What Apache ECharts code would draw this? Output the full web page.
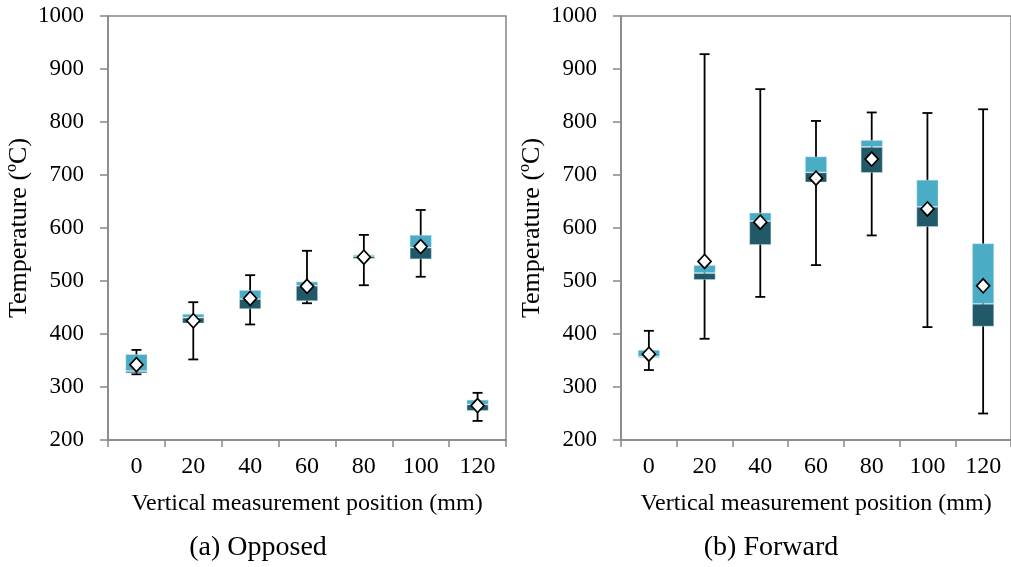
<!DOCTYPE html>
<html>
<head>
<meta charset="utf-8">
<script src="https://cdn.jsdelivr.net/npm/echarts@6/dist/echarts.min.js"></script>
<style>
  html, body { margin: 0; padding: 0; background: #ffffff; }
  #chart { width: 1011px; height: 567px; }
</style>
</head>
<body>
<div id="chart"></div>
<script>
// Vertical measurement positions (mm)
const positions = ['0', '20', '40', '60', '80', '100', '120'];

// Opposed configuration: temperature statistics (ºC)
const opposedMin    = [324, 352, 418, 458, 492, 508, 236];
const opposedQ1     = [326, 420, 447, 462, 542, 541, 255];
const opposedMedian = [330, 431, 466, 491, 547, 563, 267];
const opposedQ3     = [362, 438, 483, 499, 550, 587, 276];
const opposedMax    = [370, 460, 511, 557, 587, 634, 289];
const opposedMean   = [342, 425, 467, 490, 545, 565, 265];

// Forward configuration: temperature statistics (ºC)
const forwardMin    = [332, 391, 470, 530, 586, 413, 250];
const forwardQ1     = [355, 502, 568, 686, 704, 602, 414];
const forwardMedian = [357, 515, 613, 705, 753, 640, 457];
const forwardQ3     = [370, 530, 629, 735, 766, 691, 571];
const forwardMax    = [406, 928, 862, 802, 818, 817, 824];
const forwardMean   = [362, 537, 611, 694, 730, 636, 491];

// Temperature axis ticks
const tempMin = 200;
const tempMax = 1000;
const tempStep = 100;

const SERIF = '"Liberation Serif", "Times New Roman", serif';
const AXIS_GREY = '#868686';
const DARK_TEAL = '#215968';
const LIGHT_TEAL = '#4bacc6';

function renderWhisker(params, api) {
  const x = api.value(0);
  const lo = api.coord([x, api.value(1)]);
  const hi = api.coord([x, api.value(2)]);
  const cap = 5;
  const style = { stroke: '#000000', lineWidth: 1.8, fill: null };
  return {
    type: 'group',
    children: [
      { type: 'line', shape: { x1: lo[0], y1: lo[1], x2: hi[0], y2: hi[1] }, style: style },
      { type: 'line', shape: { x1: lo[0] - cap, y1: lo[1], x2: lo[0] + cap, y2: lo[1] }, style: style },
      { type: 'line', shape: { x1: hi[0] - cap, y1: hi[1], x2: hi[0] + cap, y2: hi[1] }, style: style }
    ]
  };
}

function panelSeries(idx, mins, q1, med, q3, maxs, means) {
  const stackId = 'box' + idx;
  return [
    {
      type: 'custom',
      xAxisIndex: idx, yAxisIndex: idx,
      renderItem: renderWhisker,
      encode: { x: 0, y: [1, 2] },
      data: positions.map((p, i) => [i, mins[i], maxs[i]]),
      z: 1
    },
    {
      type: 'bar', stack: stackId,
      xAxisIndex: idx, yAxisIndex: idx,
      barWidth: 22,
      itemStyle: { color: 'rgba(0,0,0,0)' },
      data: q1.slice(),
      z: 2
    },
    {
      type: 'bar', stack: stackId,
      xAxisIndex: idx, yAxisIndex: idx,
      barWidth: 22,
      itemStyle: { color: DARK_TEAL, borderColor: 'rgba(200,230,238,0.55)', borderWidth: 0.8 },
      data: med.map((m, i) => m - q1[i]),
      z: 2
    },
    {
      type: 'bar', stack: stackId,
      xAxisIndex: idx, yAxisIndex: idx,
      barWidth: 22,
      itemStyle: { color: LIGHT_TEAL, borderColor: 'rgba(200,230,238,0.55)', borderWidth: 0.8 },
      data: q3.map((q, i) => q - med[i]),
      z: 2
    },
    {
      type: 'scatter',
      xAxisIndex: idx, yAxisIndex: idx,
      symbol: 'diamond',
      symbolSize: [13, 14],
      itemStyle: { color: '#ffffff', borderColor: '#000000', borderWidth: 1.7, opacity: 1 },
      data: means.map((m, i) => [i, m]),
      z: 3
    }
  ];
}

function xAxisFor(idx) {
  return {
    type: 'category', gridIndex: idx, data: positions,
    axisLine: { lineStyle: { color: AXIS_GREY, width: 1.5 } },
    axisTick: { show: true, length: 7, lineStyle: { color: AXIS_GREY, width: 1.5 } },
    axisLabel: { fontFamily: SERIF, fontSize: 24, color: '#000000', margin: 15 },
    name: 'Vertical measurement position (mm)',
    nameLocation: 'middle', nameGap: 52,
    nameTextStyle: { fontFamily: SERIF, fontSize: 24, color: '#000000' }
  };
}

function yAxisFor(idx) {
  return {
    type: 'value', gridIndex: idx,
    min: tempMin, max: tempMax, interval: tempStep,
    splitLine: { show: false },
    axisLine: { show: true, lineStyle: { color: AXIS_GREY, width: 1.5 } },
    axisTick: { show: true, length: 8, lineStyle: { color: AXIS_GREY, width: 1.5 } },
    axisLabel: { fontFamily: SERIF, fontSize: 23, color: '#000000', margin: 24,
                 formatter: (v) => String(v) },
    name: 'Temperature (ºC)',
    nameLocation: 'middle', nameGap: 76, nameRotate: 90,
    nameTextStyle: { fontFamily: SERIF, fontSize: 26, color: '#000000' }
  };
}

const chart = echarts.init(document.getElementById('chart'), null, { renderer: 'canvas' });

chart.setOption({
  animation: false,
  backgroundColor: '#ffffff',
  grid: [
    { left: 108, top: 16, width: 398, height: 424, show: true, borderColor: AXIS_GREY, borderWidth: 1.5 },
    { left: 621, top: 16, width: 399, height: 424, show: true, borderColor: AXIS_GREY, borderWidth: 1.5 }
  ],
  xAxis: [xAxisFor(0), xAxisFor(1)],
  yAxis: [yAxisFor(0), yAxisFor(1)],
  series: [].concat(
    panelSeries(0, opposedMin, opposedQ1, opposedMedian, opposedQ3, opposedMax, opposedMean),
    panelSeries(1, forwardMin, forwardQ1, forwardMedian, forwardQ3, forwardMax, forwardMean)
  ),
  graphic: [
    { type: 'text', x: 258, y: 548,
      style: { text: '(a) Opposed', font: '28px ' + SERIF, fill: '#000000', align: 'center', verticalAlign: 'middle' } },
    { type: 'text', x: 771, y: 548,
      style: { text: '(b) Forward', font: '28px ' + SERIF, fill: '#000000', align: 'center', verticalAlign: 'middle' } }
  ]
});
</script>
</body>
</html>
